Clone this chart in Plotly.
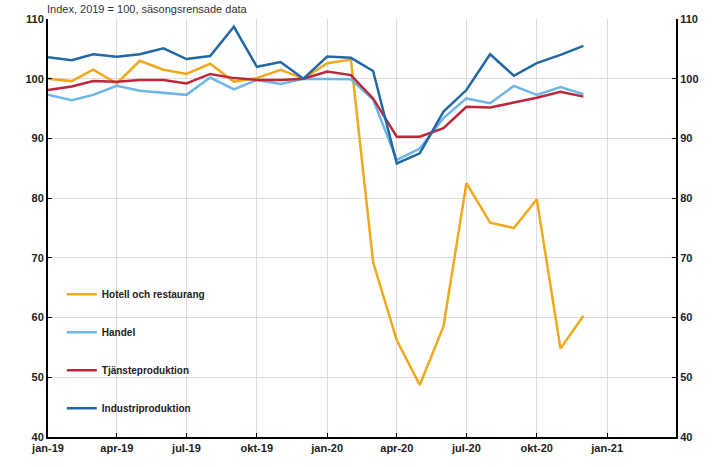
import plotly.graph_objects as go

months = ["2019-01-01","2019-02-01","2019-03-01","2019-04-01","2019-05-01","2019-06-01",
          "2019-07-01","2019-08-01","2019-09-01","2019-10-01","2019-11-01","2019-12-01",
          "2020-01-01","2020-02-01","2020-03-01","2020-04-01","2020-05-01","2020-06-01",
          "2020-07-01","2020-08-01","2020-09-01","2020-10-01","2020-11-01","2020-12-01"]

hotell = [100.0, 99.6, 101.5, 99.2, 103.0, 101.5, 100.8, 102.5, 99.5, 100.1, 101.5, 100.0,
          102.6, 103.2, 69.3, 56.2, 48.7, 58.5, 82.5, 75.9, 75.0, 79.8, 54.8, 60.3]
handel = [97.3, 96.4, 97.3, 98.8, 98.0, 97.7, 97.3, 100.2, 98.2, 99.8, 99.1, 100.0,
          99.9, 99.9, 96.5, 86.4, 88.3, 93.4, 96.7, 95.9, 98.8, 97.3, 98.6, 97.4]
tjanste = [98.1, 98.7, 99.6, 99.5, 99.8, 99.8, 99.2, 100.8, 100.1, 99.8, 99.8, 100.0,
           101.2, 100.6, 96.7, 90.3, 90.3, 91.7, 95.3, 95.2, 96.0, 96.8, 97.8, 97.0]
industri = [103.6, 103.1, 104.1, 103.7, 104.1, 105.1, 103.3, 103.8, 108.7, 102.0, 102.8, 100.0,
            103.7, 103.5, 101.3, 85.8, 87.5, 94.5, 98.1, 104.1, 100.5, 102.6, 104.0, 105.5]

tick_vals = ["2019-01-01","2019-04-01","2019-07-01","2019-10-01","2020-01-01",
             "2020-04-01","2020-07-01","2020-10-01","2021-01-01"]
tick_text = ["jan-19","apr-19","jul-19","okt-19","jan-20","apr-20","jul-20","okt-20","jan-21"]

series = [
    ("Hotell och restaurang", hotell, "#F0A81C"),
    ("Handel", handel, "#6DB6E6"),
    ("Tjänsteproduktion", tjanste, "#C0263A"),
    ("Industriproduktion", industri, "#2368A6"),
]

fig = go.Figure()
for i, (name, vals, col) in enumerate(series):
    fig.add_trace(go.Scatter(x=months, y=vals, name=name, mode="lines",
                             line=dict(color=col, width=2.5), legendgroup=f"g{i}"))
# invisible trace to activate right axis
fig.add_trace(go.Scatter(x=months, y=hotell, yaxis="y2", mode="lines",
                         line=dict(width=0), opacity=0, showlegend=False, hoverinfo="skip"))

tickfont = dict(family="Liberation Sans", size=11, color="#222", weight="bold")
fig.update_layout(
    width=715, height=467,
    margin=dict(l=48, r=39, t=19, b=30),
    paper_bgcolor="white", plot_bgcolor="white",
    showlegend=True,
    legend=dict(x=0.022, y=0.376, xanchor="left", yanchor="top",
                bgcolor="rgba(0,0,0,0)", tracegroupgap=19,
                font=dict(family="Liberation Sans", size=10, color="#222", weight="bold"),
                itemwidth=30),
    xaxis=dict(type="date", range=["2019-01-01", "2021-04-01"], automargin=False,
               tickvals=tick_vals, ticktext=tick_text, tickfont=tickfont,
               showgrid=True, gridcolor="#DCDCDC", gridwidth=1,
               showline=True, linecolor="black", linewidth=2,
               ticks="inside", ticklen=4, tickcolor="black", zeroline=False),
    yaxis=dict(range=[40, 110], dtick=10, tickfont=tickfont, automargin=False,
               showgrid=True, gridcolor="#DCDCDC", gridwidth=1,
               showline=True, linecolor="black", linewidth=2,
               ticks="inside", ticklen=4, tickcolor="black", zeroline=False),
    yaxis2=dict(range=[40, 110], dtick=10, tickfont=tickfont, overlaying="y", side="right",
                automargin=False,
                showgrid=False, showline=True, linecolor="black", linewidth=2,
                ticks="inside", ticklen=4, tickcolor="black", zeroline=False),
    annotations=[dict(text="Index, 2019 = 100, säsongsrensade data", xref="paper", yref="paper",
                      x=-3/628, y=1, xanchor="left", yanchor="bottom", yshift=2,
                      showarrow=False,
                      font=dict(family="Liberation Sans", size=11, color="#333"))],
)
fig.write_html("out.html", config={"displayModeBar": False},
               post_script="document.body.style.margin='0';")
